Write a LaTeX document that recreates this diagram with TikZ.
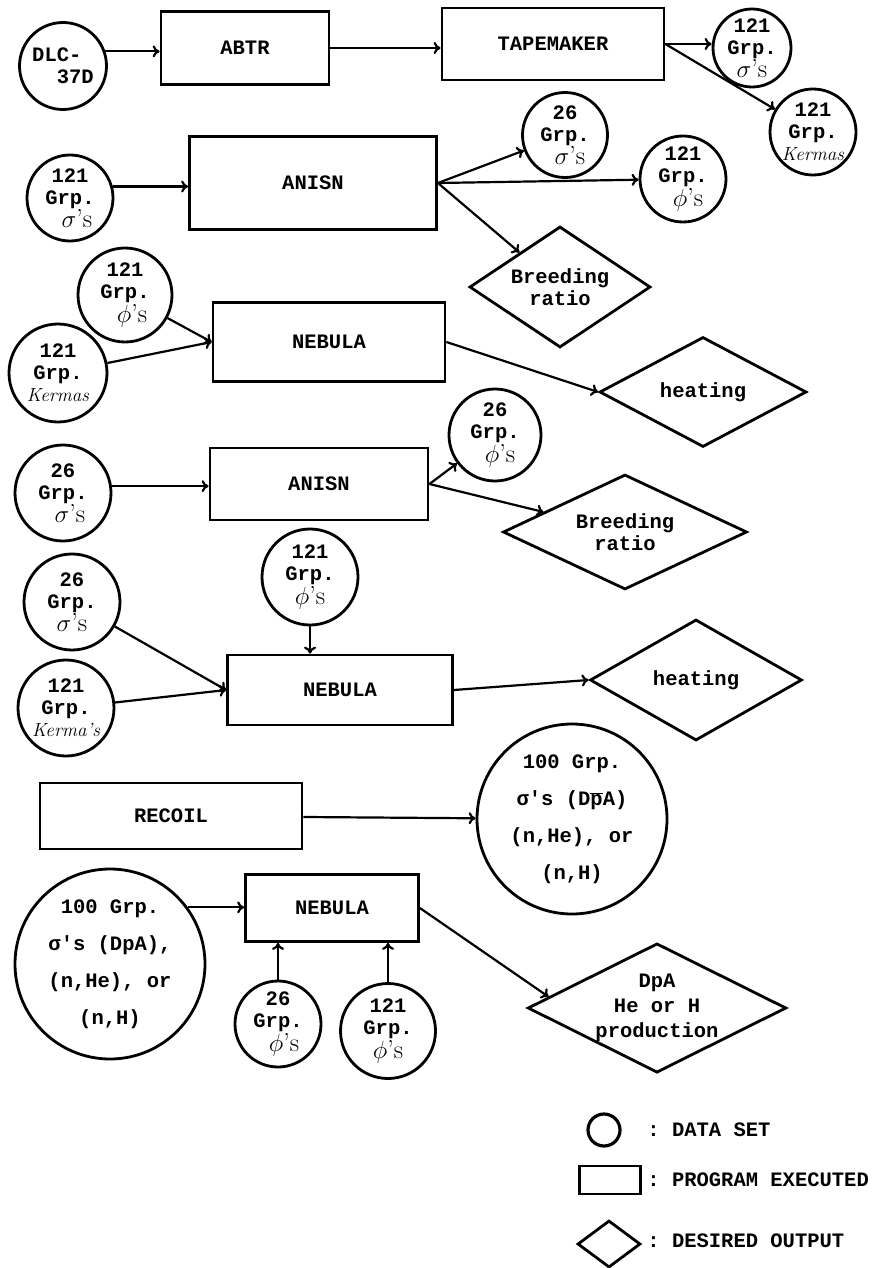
\documentclass[tikz,border=0pt]{standalone}
\usepackage{fontspec}
\setmonofont{Liberation Mono}
\usepackage{tikz}
\usetikzlibrary{shapes.geometric,calc,arrows.meta}

\newcommand{\hsig}{{\fontsize{26}{22}\selectfont\rmfamily\mdseries$\sigma$'s}}
\newcommand{\hphi}{{\fontsize{26}{22}\selectfont\rmfamily\mdseries$\phi$'s}}
\newcommand{\hkerma}[1]{{\fontsize{19}{22}\selectfont\rmfamily\mdseries\itshape #1}}

\begin{document}
\begin{tikzpicture}[x=1pt, y=-1pt,
        every node/.style={font=\ttfamily\bfseries\fontsize{20.5}{22}\selectfont,
                align=center, line width=2.8pt},
        dataset/.style={draw, circle, inner sep=0pt},
        bigset/.style={dataset, minimum size=190,
                font=\ttfamily\bfseries\fontsize{20.5}{37}\selectfont},
        progbox/.style={draw, rectangle, inner sep=0pt},
        outbox/.style={draw, diamond, inner sep=0pt, aspect=2},
        flow/.style={-{To[length=7pt, width=12pt]}, line width=2.2pt}]
  \useasboundingbox (0,0) rectangle (874,1268);

  % TAPEMAKER
  \node[dataset, minimum size=87, align=left] (dlc) at (63,66) {DLC-\\\ \ 37D};
  \node[progbox, minimum width=168, minimum height=73] (abtr) at (245,48) {ABTR};
  \node[progbox, minimum width=222, minimum height=72] (tape) at (553,44) {TAPEMAKER};
  \node[dataset, minimum size=78] (sig121a) at (752,48) {121\\Grp.\\\hsig};
  \node[dataset, minimum size=86] (kerma1) at (813,132) {121\\Grp.\\\hkerma{Kermas}};
  \draw[flow] (dlc.19) -- (dlc.19 -| abtr.west);
  \draw[flow] (abtr.east) -- (abtr.east -| tape.west);
  \draw[flow] (tape.east) -- (tape.east -| sig121a.west);
  \draw[flow] (tape.east) -- (kerma1);

  % ANISN, 121 groups
  \node[dataset, minimum size=86] (sig121b) at (70,198) {121\\Grp.\\\hspace{14pt}\hsig};
  \node[progbox, minimum width=247, minimum height=93] (anisn1) at (313,183) {ANISN};
  \node[dataset, minimum size=85] (sig26a) at (565,135) {26\\Grp.\\\hspace{10pt}\hsig};
  \node[dataset, minimum size=86] (phi121a) at (683,179) {121\\Grp.\\\hspace{10pt}\hphi};
  \node[outbox, minimum width=181, minimum height=121] (breed1) at (560,287) {Breeding\\ratio};
  \draw[flow] (sig121b.15) -- (sig121b.15 -| anisn1.west);
  \draw[flow] (anisn1.east) -- (sig26a);
  \draw[flow] (anisn1.east) -- (phi121a);
  \draw[flow] (anisn1.east) -- (breed1);

  % NEBULA, 121 groups
  \node[dataset, minimum size=94] (phi121b) at (125,295) {121\\Grp.\\\hspace{14pt}\hphi};
  \node[dataset, minimum size=98] (kerma2) at (58,373) {121\\Grp.\\\hkerma{Kermas}};
  \node[progbox, minimum width=232, minimum height=79] (nebula1) at (329,342) {NEBULA};
  \node[outbox, minimum width=207, minimum height=110] (heat1) at (703,392) {heating};
  \draw[flow] (phi121b) -- (nebula1.west);
  \draw[flow] (kerma2) -- (nebula1.west);
  \draw[flow] (nebula1.east) -- (heat1.west);

  % ANISN, 26 groups
  \node[dataset, minimum size=96] (sig26b) at (63,493) {26\\Grp.\\\hspace{14pt}\hsig};
  \node[progbox, minimum width=218, minimum height=72] (anisn2) at (319,484) {ANISN};
  \node[dataset, minimum size=92] (phi26a) at (495,435) {26\\Grp.\\\hspace{10pt}\hphi};
  \node[outbox, minimum width=244, minimum height=115] (breed2) at (625,532) {Breeding\\ratio};
  \draw[flow] (sig26b.8) -- (sig26b.8 -| anisn2.west);
  \draw[flow] (anisn2.east) -- (phi26a);
  \draw[flow] (anisn2.east) -- (breed2);

  % NEBULA, mixed groups
  \node[dataset, minimum size=96] (phi121c) at (310,577) {121\\Grp.\\\hphi};
  \node[dataset, minimum size=96] (sig26c) at (72,602) {26\\Grp.\\\hsig};
  \node[dataset, minimum size=96] (kerma3) at (66,708) {121\\Grp.\\\hkerma{Kerma's}};
  \node[progbox, minimum width=225, minimum height=70] (nebula2) at (340,690) {NEBULA};
  \node[outbox, minimum width=212, minimum height=121] (heat2) at (696,680) {heating};
  \draw[flow] (phi121c.south) -- (phi121c.south |- nebula2.north);
  \draw[flow] (sig26c) -- (nebula2.west);
  \draw[flow] (kerma3) -- (nebula2.west);
  \draw[flow] (nebula2.east) -- (heat2.west);

  % RECOIL
  \node[progbox, minimum width=262, minimum height=66] (recoil) at (171,816) {RECOIL};
  \node[bigset] (cs100a) at (572,819) {100 Grp.\\σ's (D$\overline{\mbox{p}}$A)\\(n,He), or\\(n,H)};
  \draw[flow] (recoil) -- (cs100a);

  % NEBULA, damage
  \node[bigset] (cs100b) at (110,964) {100 Grp.\\σ's (DpA),\\(n,He), or\\(n,H)};
  \node[progbox, minimum width=173, minimum height=67] (nebula3) at (332,908) {NEBULA};
  \node[dataset, minimum size=86] (phi26b) at (278,1024) {26\\Grp.\\\hspace{12pt}\hphi};
  \node[dataset, minimum size=95] (phi121d) at (388,1031) {121\\Grp.\\\hphi};
  \node[outbox, minimum width=255, minimum height=125,
        font=\ttfamily\bfseries\fontsize{20.5}{25}\selectfont] (dpa) at (657,1008) {DpA\\He or H\\production};
  \draw[flow] (cs100b.36) -- (cs100b.36 -| nebula3.west);
  \draw[flow] (phi26b.north) -- (phi26b.north |- nebula3.south);
  \draw[flow] (phi121d.north) -- (phi121d.north |- nebula3.south);
  \draw[flow] (nebula3.east) -- ($(dpa.west)!0.17!(dpa.north)$);

  % key
  \node[dataset, minimum size=32, line width=3.2pt] (keydata) at (604,1130) {};
  \node[anchor=west, inner sep=0pt] (keydatatxt) at (646,1130) {: DATA SET};
  \node[progbox, minimum width=61, minimum height=28] (keyprog) at (610,1180) {};
  \node[anchor=west, inner sep=0pt] (keyprogtxt) at (646,1180) {: PROGRAM EXECUTED};
  \node[outbox, minimum width=63, minimum height=47] (keyout) at (609,1244) {};
  \node[anchor=west, inner sep=0pt] (keyouttxt) at (646,1241) {: DESIRED OUTPUT};
\end{tikzpicture}
\end{document}
